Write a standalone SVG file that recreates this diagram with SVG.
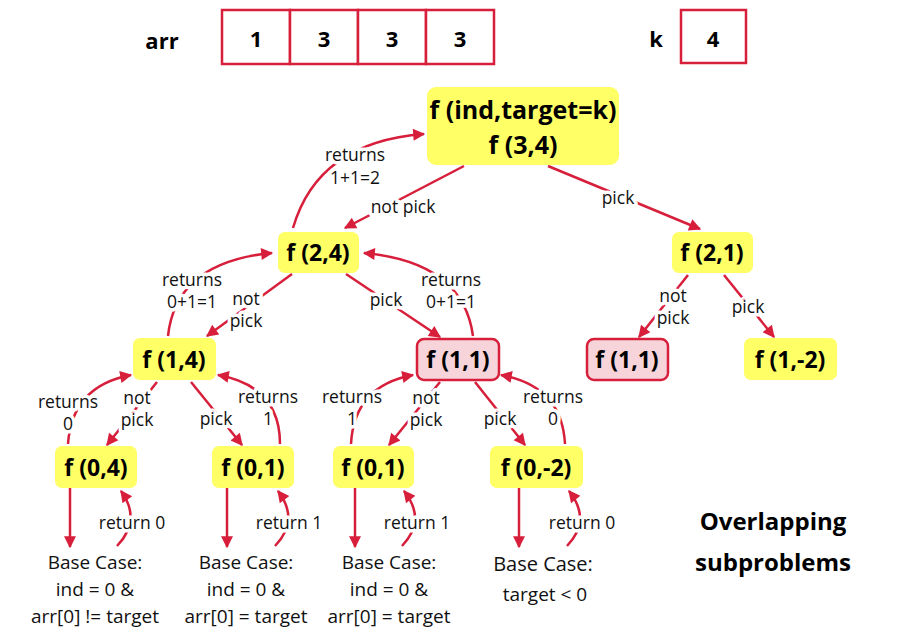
<svg xmlns="http://www.w3.org/2000/svg" width="910" height="642" viewBox="0 0 910 642">
<defs>
<marker id="ah" viewBox="0 0 10 10" refX="9" refY="5" markerWidth="15" markerHeight="12" markerUnits="userSpaceOnUse" orient="auto"><path d="M0,0 L10,5 L0,10 z" fill="#d71f3b"/></marker>
<style>
.y{fill:#ffff66;}
.p{fill:#f7d4d9;stroke:#d71f3b;stroke-width:2.5;}
.cell{fill:#fff;stroke:#d71f3b;stroke-width:2.5;}
.nt{font-family:"Open Sans",sans-serif;font-weight:bold;font-size:23px;fill:#000;text-anchor:middle;dominant-baseline:central;}
.rt{font-size:25px;}
.lb{font-family:"Open Sans",sans-serif;font-size:17.5px;fill:#111;text-anchor:middle;dominant-baseline:central;paint-order:stroke;stroke:#fff;stroke-width:7px;stroke-linejoin:round;}
.bc{font-family:"Open Sans",sans-serif;font-size:19px;fill:#111;text-anchor:middle;dominant-baseline:central;}
.bt{font-family:"Open Sans",sans-serif;font-weight:bold;font-size:22px;fill:#000;text-anchor:middle;dominant-baseline:central;}
.ov{font-family:"Open Sans",sans-serif;font-weight:bold;font-size:24px;fill:#000;text-anchor:middle;dominant-baseline:central;}
.c{fill:none;stroke:#d71f3b;stroke-width:2.5;marker-end:url(#ah);}
</style>
</defs>
<rect width="910" height="642" fill="#fff"/>
<g id="array">
<text class="bt" x="162" y="40">arr</text>
<rect class="cell" x="222" y="10" width="68" height="54"/>
<rect class="cell" x="290" y="10" width="68" height="54"/>
<rect class="cell" x="358" y="10" width="68" height="54"/>
<rect class="cell" x="426" y="10" width="68" height="54"/>
<text class="bt" x="256" y="38">1</text>
<text class="bt" x="324" y="38">3</text>
<text class="bt" x="392" y="38">3</text>
<text class="bt" x="460" y="38">3</text>
</g>
<g id="k">
<text class="bt" x="656" y="38">k</text>
<rect class="cell" x="681" y="10" width="65" height="53"/>
<text class="bt" x="713" y="38">4</text>
</g>
<g id="connectors">
<path class="c" d="M464,166 L345,228"/>
<path class="c" d="M548,166 L700,229"/>
<path class="c" d="M293,228 Q318,142 424,134"/>
<path class="c" d="M292,274 L207,336"/>
<path class="c" d="M346,274 L440,337"/>
<path class="c" d="M168,336 Q176,262 272,253"/>
<path class="c" d="M473,336 Q463,262 364,253"/>
<path class="c" d="M688,275 L639,337"/>
<path class="c" d="M724,275 L774,337"/>
<path class="c" d="M157,382 L107,445"/>
<path class="c" d="M191,382 L242,445"/>
<path class="c" d="M68,444 Q72,386 131,375"/>
<path class="c" d="M280,444 Q280,386 218,375"/>
<path class="c" d="M440,382 L389,445"/>
<path class="c" d="M475,382 L525,445"/>
<path class="c" d="M351,444 Q354,386 413,375"/>
<path class="c" d="M565,444 Q562,386 501,375"/>
<path class="c" d="M70,488 L70,547"/>
<path class="c" d="M227,488 L227,547"/>
<path class="c" d="M355,488 L355,547"/>
<path class="c" d="M519,488 L519,547"/>
<path class="c" d="M117,546 Q142,520 121,491"/>
<path class="c" d="M275,546 Q300,520 278,491"/>
<path class="c" d="M402,546 Q427,520 404,491"/>
<path class="c" d="M567,546 Q592,520 569,491"/>
</g>
<g id="labels">
<text class="lb" x="355" y="154">returns</text>
<text class="lb" x="355" y="177">1+1=2</text>
<text class="lb" x="403" y="206">not pick</text>
<text class="lb" x="618" y="197">pick</text>
<text class="lb" x="192" y="279">returns</text>
<text class="lb" x="192" y="301">0+1=1</text>
<text class="lb" x="246" y="298">not</text>
<text class="lb" x="246" y="320">pick</text>
<text class="lb" x="386" y="299">pick</text>
<text class="lb" x="451" y="279">returns</text>
<text class="lb" x="451" y="301">0+1=1</text>
<text class="lb" x="673" y="295">not</text>
<text class="lb" x="673" y="317">pick</text>
<text class="lb" x="748" y="306">pick</text>
<text class="lb" x="68" y="401">returns</text>
<text class="lb" x="68" y="423">0</text>
<text class="lb" x="137" y="397">not</text>
<text class="lb" x="137" y="419">pick</text>
<text class="lb" x="216" y="418">pick</text>
<text class="lb" x="268" y="396">returns</text>
<text class="lb" x="268" y="418">1</text>
<text class="lb" x="352" y="396">returns</text>
<text class="lb" x="352" y="418">1</text>
<text class="lb" x="426" y="397">not</text>
<text class="lb" x="426" y="419">pick</text>
<text class="lb" x="500" y="418">pick</text>
<text class="lb" x="553" y="396">returns</text>
<text class="lb" x="553" y="418">0</text>
<text class="lb" x="132" y="522">return 0</text>
<text class="lb" x="289" y="522">return 1</text>
<text class="lb" x="417" y="522">return 1</text>
<text class="lb" x="582" y="522">return 0</text>
</g>
<g id="n_root"><rect class="y" x="427" y="87" width="192" height="78" rx="9"/><text class="nt rt" x="523" y="109">f (ind,target=k)</text><text class="nt rt" x="523" y="144">f (3,4)</text></g>
<g id="n_2_4"><rect class="y" x="278" y="232" width="81" height="41" rx="7"/><text class="nt" x="318" y="252">f (2,4)</text></g>
<g id="n_2_1"><rect class="y" x="672" y="232" width="81" height="41" rx="7"/><text class="nt" x="712" y="252">f (2,1)</text></g>
<g id="n_1_4"><rect class="y" x="133" y="338" width="83" height="42" rx="7"/><text class="nt" x="174" y="359">f (1,4)</text></g>
<g id="n_1_1a"><rect class="p" x="417" y="339" width="82" height="41" rx="7"/><text class="nt" x="458" y="359">f (1,1)</text></g>
<g id="n_1_1b"><rect class="p" x="587" y="339" width="81" height="41" rx="7"/><text class="nt" x="627" y="359">f (1,1)</text></g>
<g id="n_1_m2"><rect class="y" x="744" y="338" width="93" height="42" rx="7"/><text class="nt" x="790" y="359">f (1,-2)</text></g>
<g id="n_0_4"><rect class="y" x="55" y="446" width="82" height="42" rx="7"/><text class="nt" x="96" y="467">f (0,4)</text></g>
<g id="n_0_1a"><rect class="y" x="212" y="446" width="82" height="42" rx="7"/><text class="nt" x="253" y="467">f (0,1)</text></g>
<g id="n_0_1b"><rect class="y" x="333" y="446" width="81" height="42" rx="7"/><text class="nt" x="373" y="467">f (0,1)</text></g>
<g id="n_0_m2"><rect class="y" x="490" y="446" width="93" height="42" rx="7"/><text class="nt" x="536" y="467">f (0,-2)</text></g>
<g id="base1"><text class="bc" x="95" y="562">Base Case:</text><text class="bc" x="95" y="589">ind = 0 &amp;</text><text class="bc" x="95" y="616">arr[0] != target</text></g>
<g id="base2"><text class="bc" x="246" y="562">Base Case:</text><text class="bc" x="246" y="589">ind = 0 &amp;</text><text class="bc" x="246" y="616">arr[0] = target</text></g>
<g id="base3"><text class="bc" x="389" y="562">Base Case:</text><text class="bc" x="389" y="589">ind = 0 &amp;</text><text class="bc" x="389" y="616">arr[0] = target</text></g>
<g id="base4"><text class="bc" x="543" y="563" style="font-size:20px">Base Case:</text><text class="bc" x="545" y="594">target &lt; 0</text></g>
<g id="note"><text class="ov" x="773" y="520">Overlapping</text><text class="ov" x="773" y="561">subproblems</text></g>
</svg>
